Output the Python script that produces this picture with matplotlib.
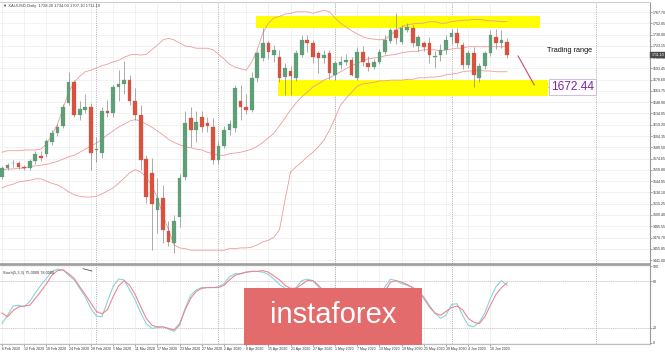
import matplotlib
matplotlib.use("Agg")
import matplotlib.pyplot as plt
import matplotlib.transforms as mtransforms
from matplotlib.patches import Rectangle

plt.rcParams["font.family"] = ["Liberation Sans", "DejaVu Sans"]

# XAUUSD daily candles (6 Feb 2020 .. 15 Jun 2020)
opens = [1550.4, 1562.2, 1568.5, 1568.8, 1563.6, 1562.2, 1571.5, 1578.0, 1580.7, 1596.5,
         1608.3, 1617.6, 1648.0, 1675.5, 1632.1, 1638.6, 1642.6, 1586.5, 1582.0, 1637.3,
         1634.7, 1668.9, 1672.9, 1678.1, 1650.5, 1632.1, 1574.1, 1556.0, 1506.9, 1522.7,
         1479.3, 1463.5, 1497.7, 1550.4, 1628.1, 1612.3, 1629.4, 1621.5, 1616.2, 1572.8,
         1591.2, 1612.3, 1614.9, 1650.5, 1642.6, 1638.6, 1680.8, 1707.1, 1726.9, 1711.1,
         1708.4, 1682.1, 1690.0, 1680.8, 1711.1, 1730.8, 1726.9, 1713.7, 1707.1, 1713.7,
         1684.7, 1697.9, 1701.8, 1704.5, 1680.8, 1715.0, 1700.5, 1695.3, 1701.8, 1715.0,
         1729.5, 1744.0, 1728.2, 1744.0, 1746.6, 1722.9, 1726.9, 1726.9, 1708.4, 1711.1,
         1717.7, 1734.8, 1740.0, 1724.2, 1697.9, 1713.7, 1680.8, 1696.6, 1713.7, 1734.8,
         1726.9, 1728.2]
highs = [1565, 1569, 1573, 1572, 1566, 1574, 1585, 1584, 1601, 1612,
         1620, 1646, 1688.7, 1678, 1651, 1660, 1648, 1603, 1642, 1652,
         1672, 1691, 1703, 1685, 1667, 1645, 1580, 1575, 1549, 1540,
         1492, 1500, 1555, 1637, 1642, 1637, 1637, 1630, 1628, 1598,
         1617, 1626, 1672, 1671, 1660, 1689, 1717, 1746.6, 1730, 1724,
         1718, 1701, 1697, 1718, 1738, 1738, 1731, 1717, 1718, 1718,
         1703, 1710, 1712, 1708, 1722, 1723, 1710, 1706, 1719, 1737,
         1747, 1766.4, 1750, 1753, 1751, 1737, 1730, 1735, 1716, 1725,
         1737, 1745, 1746, 1728, 1718, 1722, 1700, 1716, 1744, 1745,
         1744, 1734]
lows = [1548, 1560, 1564, 1561, 1559, 1559, 1568, 1572, 1577, 1593,
        1604, 1615, 1645, 1630, 1625, 1635, 1559.6, 1570, 1575, 1630,
        1630, 1650, 1660, 1645, 1626, 1560, 1516, 1454.3, 1477, 1463,
        1460, 1450.3, 1484, 1546, 1590, 1597, 1610, 1610, 1567, 1568,
        1588, 1606, 1610, 1625, 1633, 1636, 1676, 1703, 1706, 1702,
        1675, 1658.4, 1658.4, 1677, 1708, 1715, 1700, 1687, 1700, 1680,
        1678, 1692, 1698, 1683, 1678, 1697, 1690, 1693, 1699, 1712,
        1727, 1726, 1725, 1741, 1721, 1717, 1717, 1700, 1694, 1703,
        1713, 1725, 1722, 1692, 1694, 1668.9, 1676, 1693, 1710, 1719,
        1720, 1707.1]
closes = [1562.2, 1566.2, 1569.0, 1563.6, 1562.2, 1571.5, 1580.7, 1575.4, 1597.8, 1608.3,
          1616.2, 1642.6, 1675.5, 1632.1, 1640.0, 1642.6, 1582.0, 1587.3, 1637.3, 1634.7,
          1668.9, 1672.9, 1678.1, 1650.5, 1632.1, 1572.8, 1524.1, 1515.0, 1522.7, 1480.6,
          1464.8, 1492.4, 1549.1, 1621.5, 1612.3, 1622.8, 1616.2, 1617.6, 1572.8, 1591.2,
          1612.3, 1620.2, 1667.6, 1642.6, 1638.6, 1680.8, 1713.7, 1726.9, 1715.0, 1717.7,
          1680.8, 1693.9, 1683.4, 1713.7, 1730.8, 1726.9, 1708.4, 1707.1, 1711.1, 1687.4,
          1700.5, 1701.8, 1704.5, 1684.7, 1715.0, 1701.8, 1695.3, 1701.8, 1715.0, 1730.8,
          1744.0, 1733.5, 1746.6, 1748.0, 1726.9, 1734.8, 1721.6, 1711.1, 1708.9, 1717.7,
          1730.8, 1740.0, 1726.9, 1697.9, 1713.7, 1684.7, 1696.6, 1713.7, 1737.4, 1726.9,
          1730.8, 1711.1]

# Bollinger bands as drawn on the chart
bb_upper = [1583, 1585, 1585, 1585, 1586, 1586, 1586, 1587, 1594, 1606,
            1620, 1641, 1662, 1675, 1683, 1689, 1691, 1694, 1697, 1699,
            1702, 1704, 1708, 1711, 1712, 1711, 1712, 1718, 1724, 1731,
            1733, 1731, 1727, 1723, 1722, 1720, 1720, 1720, 1718, 1712,
            1706, 1699, 1695, 1693, 1691, 1702, 1718, 1740, 1753, 1760,
            1762, 1765, 1766, 1768, 1768, 1768, 1766, 1768, 1770, 1768,
            1760, 1753, 1748, 1743, 1739, 1735, 1733, 1732, 1731, 1732,
            1737, 1744, 1748, 1751, 1752, 1753, 1753, 1755, 1755, 1753,
            1753, 1755, 1756, 1757, 1757, 1758, 1758, 1757, 1756, 1756,
            1755, 1755]
bb_middle = [1560, 1561, 1561, 1562, 1562, 1564, 1565, 1566, 1567, 1569,
             1571, 1574, 1577, 1579, 1583, 1587, 1591, 1595, 1600, 1606,
             1611, 1616, 1620, 1624, 1626, 1624, 1620, 1616, 1611, 1606,
             1600, 1596, 1593, 1590, 1589, 1587, 1586, 1583, 1581, 1579,
             1579, 1581, 1582, 1583, 1585, 1587, 1591, 1596, 1602, 1608,
             1618, 1628, 1639, 1648, 1656, 1662, 1669, 1673, 1678, 1681,
             1685, 1689, 1693, 1697, 1700, 1703, 1706, 1707, 1708, 1710,
             1711, 1712, 1714, 1715, 1716, 1716, 1718, 1718, 1718, 1716,
             1718, 1719, 1720, 1720, 1722, 1722, 1722, 1722, 1722, 1722,
             1722, 1722]
bb_lower = [1536, 1539, 1541, 1544, 1545, 1546, 1548, 1548, 1545, 1542,
            1540, 1536, 1531, 1527, 1525, 1524, 1524, 1525, 1528, 1532,
            1536, 1542, 1549, 1556, 1560, 1557, 1550, 1539, 1523, 1500,
            1481, 1461, 1457, 1456, 1454, 1454, 1454, 1454, 1454, 1454,
            1454, 1456, 1456, 1457, 1457, 1458, 1461, 1465, 1467, 1471,
            1481, 1520, 1557, 1564, 1570, 1577, 1583, 1590, 1599, 1612,
            1628, 1645, 1654, 1662, 1670, 1673, 1674, 1675, 1677, 1677,
            1678, 1678, 1678, 1679, 1679, 1681, 1681, 1682, 1682, 1683,
            1685, 1686, 1687, 1689, 1690, 1690, 1691, 1690, 1690, 1689,
            1689, 1689]

# Stochastic (5,3,3)
stoch_main = [25, 36, 48, 49, 47, 54, 65, 75, 84, 93,
              96, 95, 88, 82, 71, 60, 45, 35, 34, 54,
              73, 83, 82, 69, 56, 39, 25, 19, 20, 21,
              18, 15, 23, 45, 62, 69, 72, 72, 72, 73,
              77, 86, 90, 90, 92, 93, 93, 92, 89, 83,
              76, 71, 67, 72, 81, 83, 81, 73, 62, 52,
              43, 49, 49, 50, 52, 53, 49, 48, 53, 73,
              83, 81, 77, 75, 72, 67, 60, 49, 39, 32,
              36, 50, 51, 36, 23, 21, 27, 39, 58, 73,
              81, 75]
stoch_signal = [39, 34, 42, 47, 48, 49, 58, 67, 77, 88,
                94, 95, 90, 84, 73, 63, 52, 41, 38, 43,
                60, 74, 81, 75, 63, 47, 32, 23, 21, 21,
                19, 17, 25, 43, 58, 67, 71, 72, 72, 72,
                75, 82, 88, 90, 92, 93, 93, 94, 92, 87,
                82, 75, 71, 71, 76, 81, 81, 75, 67, 58,
                49, 47, 48, 49, 50, 51, 51, 51, 51, 67,
                79, 81, 79, 76, 72, 67, 58, 47, 39, 36,
                41, 46, 48, 43, 32, 27, 25, 34, 49, 63,
                72, 78]
# short trend line drawn on the oscillator (bar, value)
osc_line = ([14.6, 16.2], [96.5, 93.5])

price_ticks = ["1767.70", "1752.85", "1738.00", "1723.15", "1708.30", "1693.45",
               "1678.60", "1663.75", "1648.90", "1634.05", "1619.20", "1604.35",
               "1589.50", "1574.65", "1559.80", "1544.95", "1530.10", "1515.25",
               "1500.40", "1485.55", "1470.70", "1455.85", "1441.00"]
date_labels = ["6 Feb 2020", "12 Feb 2020", "18 Feb 2020", "24 Feb 2020", "28 Feb 2020",
               "5 Mar 2020", "11 Mar 2020", "17 Mar 2020", "23 Mar 2020", "27 Mar 2020",
               "2 Apr 2020", "8 Apr 2020", "15 Apr 2020", "21 Apr 2020", "27 Apr 2020",
               "1 May 2020", "7 May 2020", "13 May 2020", "19 May 2020", "25 May 2020",
               "29 May 2020", "4 Jun 2020", "10 Jun 2020"]
month_starts = [17, 39, 60, 81, 107]

# hand-drawn zones: bar span and price span
zone_top = (45.8, 97.0, 1746.6, 1762.4)
zone_bottom = (49.7, 98.4, 1657.1, 1678.1)
support_level = "1672.44"

W, H = 665, 352
GREEN, RED = "#5e9f78", "#d9523f"
BAND = "#ee9a9a"
NARROW = ["Liberation Sans Narrow", "DejaVu Sans Condensed", "Liberation Sans"]


def px_box(x0, y0, x1, y1):
    return [x0 / W, 1 - y1 / H, (x1 - x0) / W, (y1 - y0) / H]


fig = plt.figure(figsize=(W / 100, H / 100), dpi=100)
ax = fig.add_axes(px_box(0, 2, 650, 264))
ax2 = fig.add_axes(px_box(0, 265, 650, 344), sharex=ax)

n = len(closes)
xs = list(range(n))
ax.set_xlim(-0.36, 116.76)
ax.set_ylim(1435.8, 1780.9)
ax2.set_ylim(-1.3, 101.3)

for a in (ax, ax2):
    a.set_facecolor("white")
    a.set_xticks(range(0, 4 * len(date_labels), 4))
    a.grid(True, color="#ededed", lw=0.5)
    a.set_axisbelow(True)
    for m in month_starts:
        a.axvline(m, color="#a5a5a5", ls=(0, (1.2, 1.5)), lw=0.6, zorder=1)
    a.spines["left"].set_visible(False)
    a.spines["right"].set_color("#9a9a9a")
    a.yaxis.tick_right()
    a.tick_params(axis="y", labelsize=2.6, length=1.2, pad=0.6, colors="#555555",
                  labelcolor="#333333", width=0.4)

ax.spines["top"].set_color("#cfcfcf")
ax.spines["bottom"].set_color("#9d9d9d")
ax.spines["bottom"].set_linewidth(1.2)
ax2.spines["top"].set_color("#9d9d9d")
ax2.spines["top"].set_linewidth(1.2)
ax2.spines["bottom"].set_color("#bdbdbd")
ax.tick_params(axis="x", length=0, labelbottom=False)
ax2.set_xticklabels(date_labels)
ax2.tick_params(axis="x", labelsize=2.5, length=1.2, pad=1, colors="#555555",
                labelcolor="#333333", width=0.4)
plt.setp(ax2.get_xticklabels(), ha="left")

ax.set_yticks([float(t) for t in price_ticks])
ax.set_yticklabels(price_ticks)
ax2.set_yticks([0, 20, 80, 100])
ax2.set_yticklabels(["0", "20", "80", "100"])

# yellow zones
for x0, x1, y0, y1 in (zone_top, zone_bottom):
    ax.add_patch(Rectangle((x0, y0), x1 - x0, y1 - y0, color="#ffff00", lw=0, zorder=1.5))

# bollinger bands
for band in (bb_upper, bb_middle, bb_lower):
    ax.plot(xs, band, color=BAND, lw=0.6, zorder=2)

# candles
for i in xs:
    up = closes[i] >= opens[i]
    col = GREEN if up else RED
    ax.vlines(i, lows[i], highs[i], color="#8a8a8a", lw=0.5, zorder=3)
    body = max(abs(closes[i] - opens[i]), 0.8)
    ax.bar(i, body, bottom=min(opens[i], closes[i]), width=0.66, color=col,
           edgecolor=col, lw=0.2, zorder=4)

# annotations
ax.plot([93.0, 95.9], [1709.7, 1671.6], color="#d4476a", lw=0.8, zorder=5)
ax.plot([98.3, 98.9], [1668.6, 1668.6], color="#b07fc0", lw=0.5, zorder=5)
ax.text(98.9, 1668.6, support_level, color="#8224a6", fontsize=8.6, va="center", ha="left",
        family=NARROW,
        bbox=dict(boxstyle="square,pad=0.15", fc="white", ec="#c9b5d4", lw=0.6), zorder=6)
ax.text(98.2, 1716.5, "Trading range", fontsize=5.3, color="#111111", va="center", ha="left")

# current price marker on the axis
trans = mtransforms.blended_transform_factory(ax.transAxes, ax.transData)
ax.text(1.002, closes[-1], f"{closes[-1]:.2f}", transform=trans, fontsize=2.6,
        color="white", va="center", ha="left", clip_on=False, zorder=10,
        bbox=dict(boxstyle="square,pad=0.25", fc="#4a4a4a", ec="#4a4a4a", lw=0.3))

# stochastic
ax2.axhline(80, color="#c0c0c0", ls=(0, (1.5, 1.5)), lw=0.5, zorder=1)
ax2.axhline(20, color="#c0c0c0", ls=(0, (1.5, 1.5)), lw=0.5, zorder=1)
ax2.plot(xs, stoch_main, color="#8bd3dc", lw=0.8, zorder=3)
ax2.plot(xs, stoch_signal, color="#ea8790", lw=0.8, zorder=3)
ax2.plot(*osc_line, color="#555555", lw=0.6, zorder=4)
ax2.text(0.004, 0.9, f"Stoch(5,3,3) {stoch_main[-1]:.4f} {stoch_signal[-1]:.4f}",
         transform=ax2.transAxes, fontsize=2.8, color="#333333", va="center")

fig.text(3 / W, 1 - 6 / H,
         f"\u25bc XAUUSD,Daily  {opens[-1]:.2f} {highs[-1]:.2f} {lows[-1]:.2f} {closes[-1]:.2f}",
         fontsize=3.0, color="#444444", va="center")

# watermark
fig.add_artist(Rectangle((244 / W, 1 - 345 / H), 178 / W, 57 / H, transform=fig.transFigure,
                         fc="#e36b6b", ec="none", zorder=20))
fig.text(333 / W, 1 - 315 / H, "instaforex", color="white", fontsize=21, ha="center",
         va="center", zorder=21, family=NARROW)

fig.savefig("out.png", dpi=100, facecolor="white")
